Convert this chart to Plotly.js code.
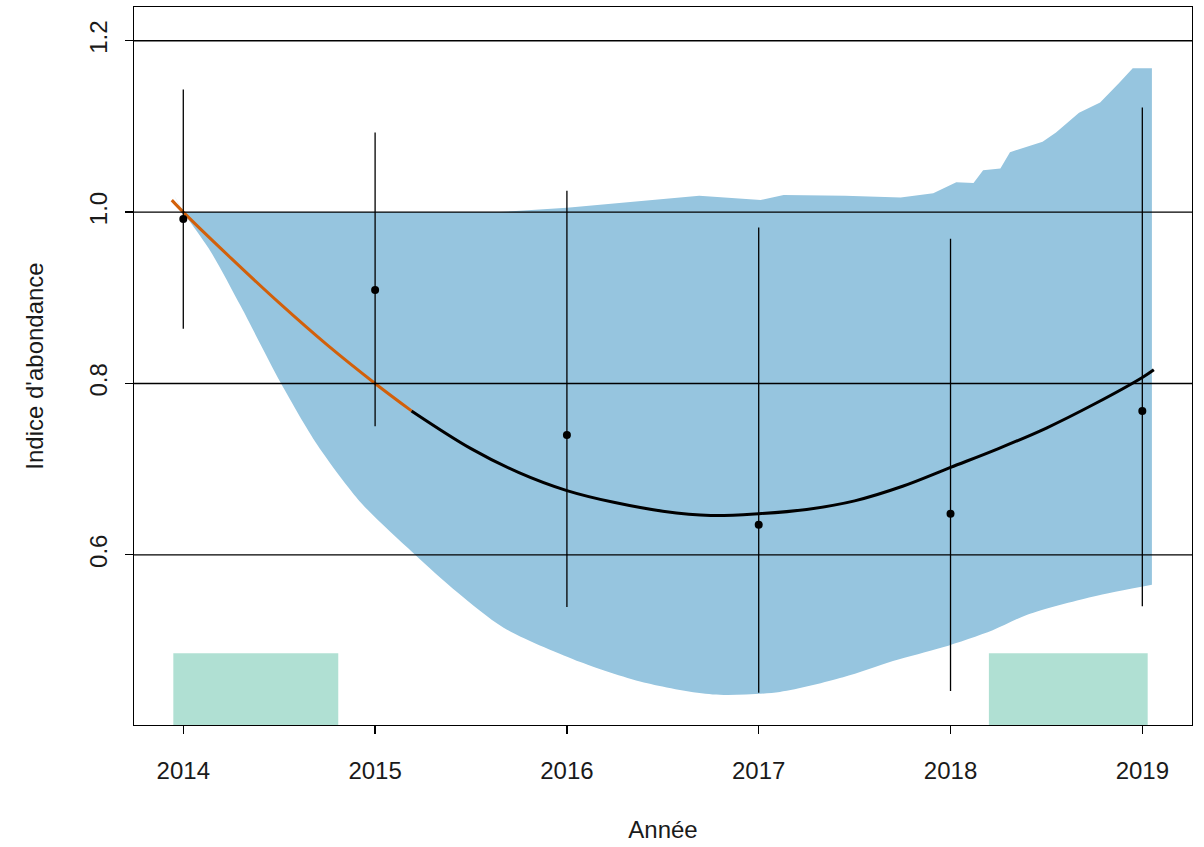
<!DOCTYPE html>
<html>
<head>
<meta charset="utf-8">
<script src="https://cdn.plot.ly/plotly-3.0.1.min.js"></script>
<style>html,body{margin:0;padding:0;background:#fff;}#chart{width:1204px;height:847px;}</style>
</head>
<body>
<div id="chart"></div>
<script>
// Observed yearly abundance index with confidence limits
const years = [2014, 2015, 2016, 2017, 2018, 2019];
const indexValues = [0.992, 0.909, 0.740, 0.635, 0.648, 0.768];
const indexLower = [0.864, 0.750, 0.539, 0.439, 0.441, 0.540];
const indexUpper = [1.143, 1.093, 1.025, 0.982, 0.969, 1.122];

// Fitted trend (orange early part, black later part)
const trendEarlyX = [2013.94, 2014.0, 2014.25, 2014.5, 2014.75, 2015.0, 2015.19];
const trendEarlyY = [1.014, 1.0, 0.946, 0.894, 0.845, 0.800, 0.768];
const trendLateX = [2015.19, 2015.5, 2015.75, 2016.0, 2016.25, 2016.5, 2016.75, 2017.0, 2017.25, 2017.5, 2017.75, 2018.0, 2018.25, 2018.5, 2018.75, 2019.0, 2019.06];
const trendLateY = [0.768, 0.724, 0.696, 0.675, 0.661, 0.651, 0.646, 0.648, 0.653, 0.663, 0.680, 0.702, 0.724, 0.748, 0.776, 0.807, 0.816];

// Confidence band of the trend
const bandUpperX = [2013.95, 2014.0, 2014.5, 2015.0, 2015.5, 2015.65, 2016.0, 2016.35, 2016.69, 2017.01, 2017.13, 2017.45, 2017.74, 2017.91, 2018.03, 2018.12, 2018.17, 2018.26, 2018.31, 2018.48, 2018.55, 2018.67, 2018.78, 2018.88, 2018.95, 2019.05];
const bandUpperY = [1.02, 1.0, 1.0, 1.0, 1.0, 1.0, 1.005, 1.012, 1.019, 1.014, 1.020, 1.019, 1.017, 1.022, 1.035, 1.034, 1.049, 1.051, 1.070, 1.082, 1.093, 1.116, 1.128, 1.151, 1.168, 1.168];
const bandLowerX = [2013.95, 2014.0, 2014.14, 2014.30, 2014.51, 2014.70, 2014.93, 2015.20, 2015.43, 2015.67, 2016.07, 2016.42, 2016.76, 2017.11, 2017.44, 2017.70, 2017.96, 2018.22, 2018.40, 2018.74, 2019.05];
const bandLowerY = [1.02, 1.0, 0.955, 0.890, 0.800, 0.728, 0.660, 0.602, 0.556, 0.515, 0.475, 0.450, 0.437, 0.440, 0.457, 0.476, 0.492, 0.512, 0.530, 0.551, 0.565];

// Highlighted periods (green rectangles)
const periodStart = [2013.948, 2018.20];
const periodEnd = [2014.808, 2019.028];
const periodTop = [0.485, 0.485];

const yTicks = [0.6, 0.8, 1.0, 1.2];
const xRange = [2013.743, 2019.259];
const yRange = [0.4014, 1.2394];

const bandColor = 'rgb(150,197,223)';

const traces = [
  {x: bandLowerX, y: bandLowerY, type: 'scatter', mode: 'lines',
   line: {width: 0, color: 'rgba(0,0,0,0)', shape: 'spline', smoothing: 0.8}, hoverinfo: 'skip', showlegend: false},
  {x: bandUpperX, y: bandUpperY, type: 'scatter', mode: 'lines', fill: 'tonexty',
   fillcolor: bandColor, line: {width: 0, color: 'rgba(0,0,0,0)'}, hoverinfo: 'skip', showlegend: false},
  {x: trendEarlyX, y: trendEarlyY, type: 'scatter', mode: 'lines',
   line: {color: '#d2600a', width: 3, shape: 'spline'}, showlegend: false},
  {x: trendLateX, y: trendLateY, type: 'scatter', mode: 'lines',
   line: {color: '#000000', width: 3, shape: 'spline'}, showlegend: false},
  {x: years, y: indexValues, type: 'scatter', mode: 'markers',
   marker: {color: '#000', size: 8},
   error_y: {type: 'data', symmetric: false,
     array: indexUpper.map((u, i) => u - indexValues[i]),
     arrayminus: indexValues.map((v, i) => v - indexLower[i]),
     color: '#000', thickness: 1.3, width: 0},
   showlegend: false}
];

const shapes = [];
for (let i = 0; i < periodStart.length; i++) {
  shapes.push({type: 'rect', xref: 'x', yref: 'y', x0: periodStart[i], x1: periodEnd[i],
    y0: yRange[0], y1: periodTop[i], fillcolor: 'rgb(176,224,211)', line: {width: 0}, layer: 'below'});
}
yTicks.forEach(v => {
  shapes.push({type: 'line', xref: 'paper', yref: 'y', x0: 0, x1: 1, y0: v, y1: v,
    line: {color: '#000', width: 1.3}, layer: 'above'});
});

const font = {family: 'Liberation Sans, Arial, sans-serif', size: 24, color: '#1a1a1a'};

const layout = {
  width: 1204, height: 847,
  margin: {l: 134, r: 12, t: 7, b: 122},
  paper_bgcolor: '#fff', plot_bgcolor: '#fff',
  font: font,
  showlegend: false,
  xaxis: {
    range: xRange, tickvals: years, ticktext: years.map(String),
    ticks: 'outside', ticklen: 8, tickwidth: 1.3, tickcolor: '#000',
    ticklabelstandoff: 16,
    showline: true, mirror: true, linecolor: '#000', linewidth: 1.3,
    showgrid: false, zeroline: false, tickfont: font,
    title: {text: 'Année', font: font, standoff: 38}
  },
  yaxis: {
    range: yRange, tickvals: yTicks, ticktext: yTicks.map(v => v.toFixed(1)),
    ticks: 'outside', ticklen: 8, tickwidth: 1.3, tickcolor: '#000', tickangle: -90,
    ticklabelstandoff: 8,
    showline: true, mirror: true, linecolor: '#000', linewidth: 1.3,
    showgrid: false, zeroline: false, tickfont: font,
    title: {text: "Indice d'abondance", font: font, standoff: 34}
  },
  shapes: shapes
};

Plotly.newPlot('chart', traces, layout, {staticPlot: true});
</script>
</body>
</html>
